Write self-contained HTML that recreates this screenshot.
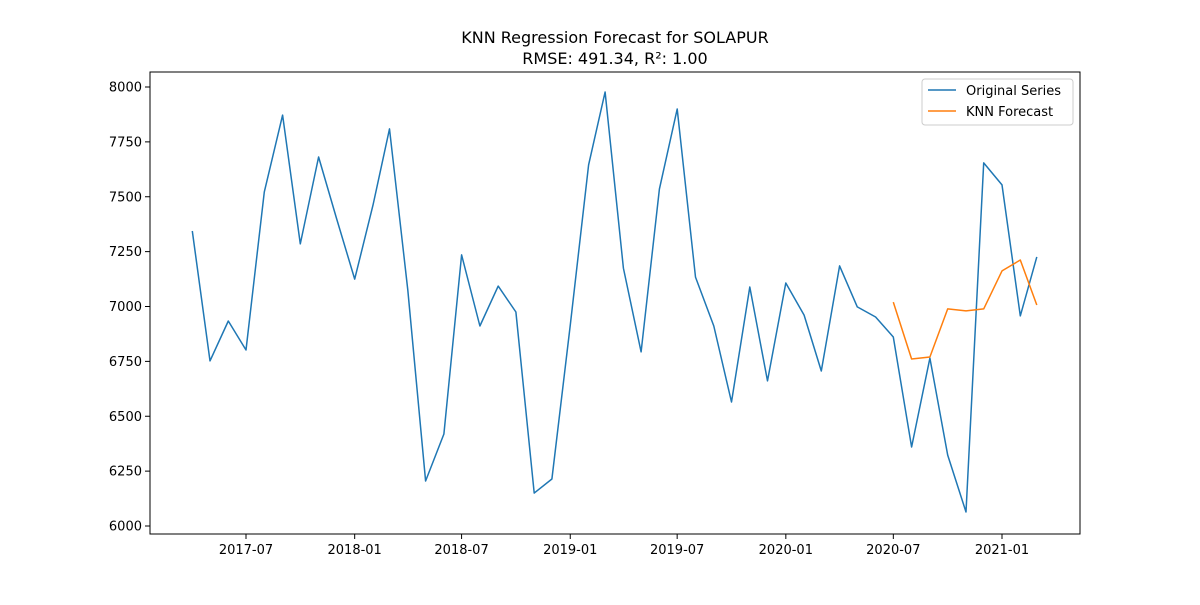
<!DOCTYPE html>
<html><head><meta charset="utf-8"><style>
body{margin:0;background:#fff;}
svg text{font-family:"DejaVu Sans","Liberation Sans",sans-serif;}
</style></head><body>
<svg id="chart" width="1200" height="600">
<rect width="1200" height="600" fill="#fff"/>
<text x="615" y="43" text-anchor="middle" font-size="16">KNN Regression Forecast for SOLAPUR</text>
<text x="615" y="64" text-anchor="middle" font-size="16">RMSE: 491.34, R²: 1.00</text>
<g id="plot"></g>
</svg>
<script>
const originalValues=[7344,6752,6934,6802,7522,7872,7285,7681,7403,7125,7462,7809,7075,6205,6419,7235,6911,7093,6975,6150,6214,6916,7645,7977,7175,6793,7535,7900,7134,6911,6565,7089,6661,7107,6961,6706,7185,6998,6952,6861,6360,6765,6323,6064,7654,7554,6957,7226];
const originalStart=[2017,4];
const forecastValues=[7020,6761,6770,6989,6980,6989,7162,7212,7007];
const forecastStart=[2020,7];
const yTicks=[6000,6250,6500,6750,7000,7250,7500,7750,8000];
const xTickLabels=["2017-07","2018-01","2018-07","2019-01","2019-07","2020-01","2020-07","2021-01"];

const L=150,R=1080,T=72,B=534;
const ms=(y,m)=>Date.UTC(y,m-1,1);
const x0=ms(2017,7),x1=ms(2021,1);
const sx=t=>246+(t-x0)*(1002-246)/(x1-x0);
const sy=v=>87+(8000-v)*(526-87)/2000;
const NS="http://www.w3.org/2000/svg";
const g=document.getElementById('plot');
function mk(tag,attrs,parent){const e=document.createElementNS(NS,tag);for(const k in attrs)e.setAttribute(k,attrs[k]);(parent||g).appendChild(e);return e;}
function dateAt(start,i){const m=start[1]-1+i;return ms(start[0]+Math.floor(m/12),(m%12)+1);}

yTicks.forEach(v=>{
  const t=mk('line',{x1:L-5,x2:L,y1:sy(v),y2:sy(v),stroke:'#000'});
  
  
  const l=mk('text',{x:L-8,y:sy(v)+4.5,'text-anchor':'end','font-size':13});
  l.textContent=v;
  
  
});
xTickLabels.forEach(s=>{
  const [y,m]=s.split('-').map(Number);const x=sx(ms(y,m));
  const t=mk('line',{x1:x,x2:x,y1:B,y2:B+5,stroke:'#000'});
  
  
  const l=mk('text',{x:x,y:B+20,'text-anchor':'middle','font-size':13});
  l.textContent=s;
  
  
});

function series(vals,start,color,name){
  const pts=vals.map((v,i)=>sx(dateAt(start,i)).toFixed(1)+','+sy(v).toFixed(1)).join(' ');
  const p=mk('polyline',{points:pts,fill:'none',stroke:color,'stroke-width':1.5,'stroke-linejoin':'round'});
  
  
}
series(originalValues,originalStart,'#1f77b4','original-series-line');
series(forecastValues,forecastStart,'#ff7f0e','knn-forecast-line');

const frame=mk('rect',{x:L,y:T,width:R-L,height:B-T,fill:'none',stroke:'#000','stroke-width':1});



const lg=mk('g',{});


mk('rect',{x:922,y:79,width:151,height:46,rx:3,fill:'#fff',stroke:'#ccc'},lg);
[['Original Series','#1f77b4',90],['KNN Forecast','#ff7f0e',111]].forEach(([t,c,y])=>{
  const e=mk('g',{},lg);
  
  
  mk('line',{x1:928,x2:956,y1:y,y2:y,stroke:c,'stroke-width':1.5},e);
  const tx=mk('text',{x:966,y:y+5,'font-size':13},e);tx.textContent=t;
});
</script>
</body></html>
